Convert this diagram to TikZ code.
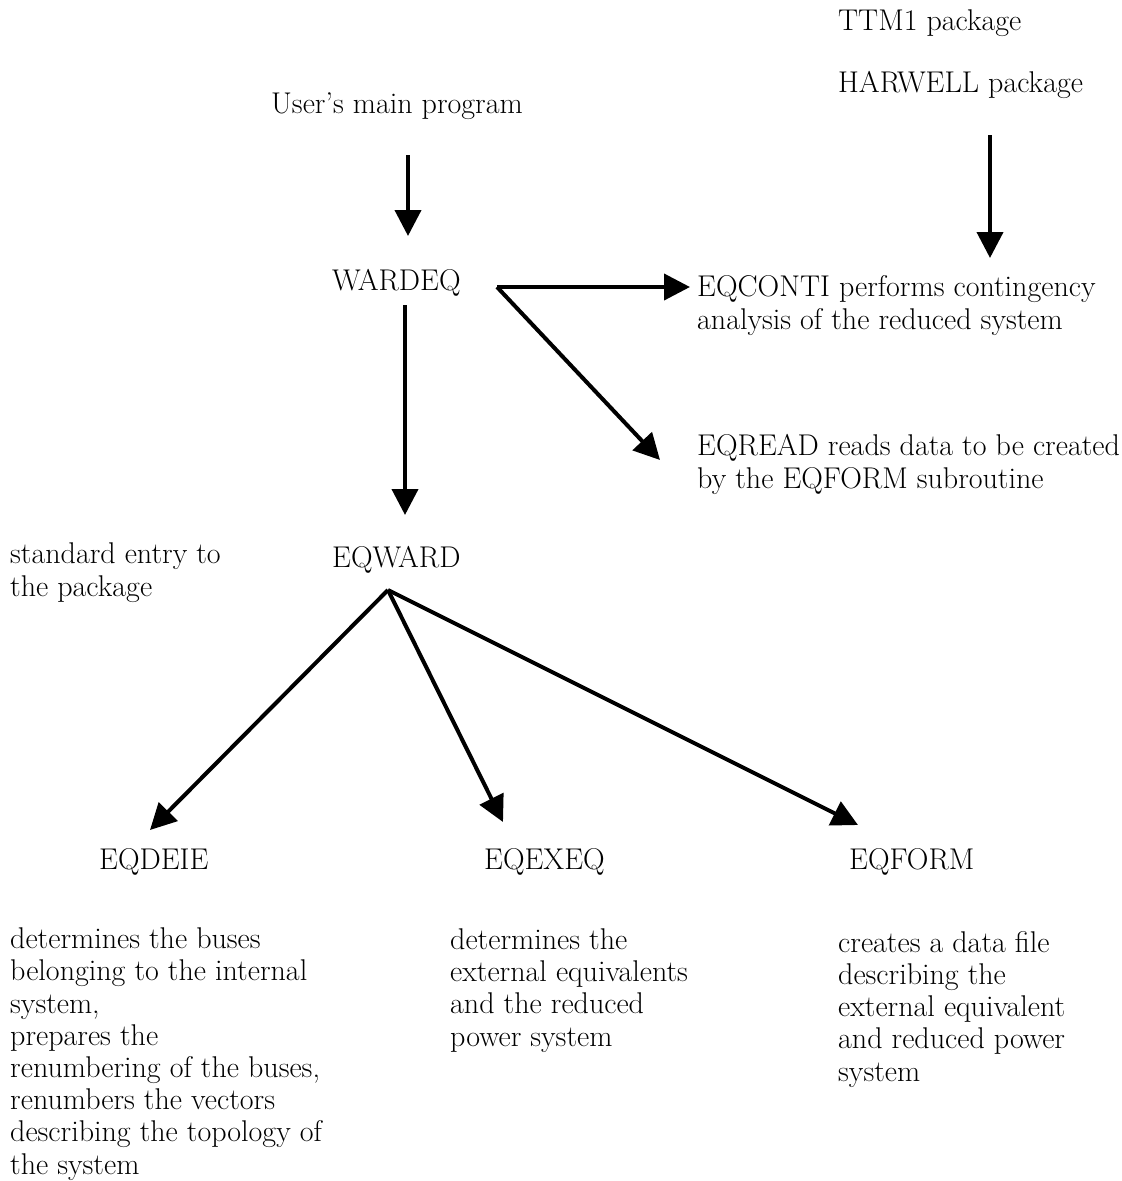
\documentclass[tikz,border=0pt]{standalone}
\usetikzlibrary{arrows.meta}
\begin{document}
\begin{tikzpicture}[x=1pt,y=-1pt,
  txt/.style={anchor=base west,inner sep=0pt,align=left,font=\fontsize{30}{32.2}\selectfont},
  arr/.style={line width=4pt,-{Triangle[length=26pt,width=26pt]}}]
\path[fill=white,use as bounding box] (0,0) rectangle (1122,1181);

% single-line texts: anchor at baseline; multi-line texts: anchor at baseline of last line
\node[txt] (ttm) at (838,30) {TTM1 package};
\node[txt] (harwell) at (838,92) {HARWELL package};
\node[txt] (user) at (271,113) {User's main program};
\node[txt] (wardeq) at (332,290) {WARDEQ};
\node[txt] (eqconti) at (697,329) {EQCONTI performs contingency\\analysis of the reduced system};
\node[txt] (eqread) at (697,488) {EQREAD reads data to be created\\by the EQFORM subroutine};
\node[txt] (std) at (10,596) {standard entry to\\the package};
\node[txt] (eqward) at (332,567) {EQWARD};
\node[txt] (eqdeie) at (99,869) {EQDEIE};
\node[txt] (eqexeq) at (484,869) {EQEXEQ};
\node[txt] (eqform) at (849,869) {EQFORM};
\node[txt] (d1) at (10,1174) {determines the buses\\belonging to the internal\\system,\\prepares the\\renumbering of the buses,\\renumbers the vectors\\describing the topology of\\the system};
\node[txt] (d2) at (450,1046) {determines the\\external equivalents\\and the reduced\\power system};
\node[txt] (d3) at (838,1081) {creates a data file\\describing the\\external equivalent\\and reduced power\\system};

\coordinate (userB) at (408,155);
\coordinate (wardeqT) at (408,236);
\coordinate (harB) at (990,135);
\coordinate (harT) at (990,258);
\coordinate (wardeqR) at (497,287);
\coordinate (contiL) at (690,287);
\coordinate (readL) at (660,460);
\coordinate (wardeqB) at (405,305);
\coordinate (eqwardT) at (405,515);
\coordinate (apex) at (388,590);
\coordinate (deieT) at (150,830);
\coordinate (exeqT) at (503,822);
\coordinate (formT) at (858,825);

\draw[arr] (userB) -- (wardeqT);
\draw[arr] (harB) -- (harT);
\draw[arr] (wardeqR) -- (contiL);
\draw[arr] (wardeqR) -- (readL);
\draw[arr] (wardeqB) -- (eqwardT);
\draw[arr] (apex) -- (deieT);
\draw[arr] (apex) -- (exeqT);
\draw[arr] (apex) -- (formT);
\end{tikzpicture}
\end{document}
